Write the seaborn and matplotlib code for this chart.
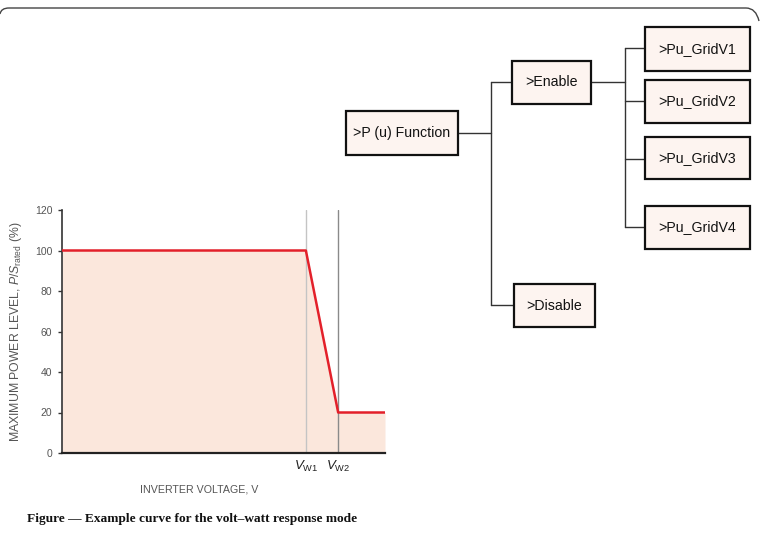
import seaborn as sns
import matplotlib.pyplot as plt
from matplotlib.patches import Rectangle, PathPatch
from matplotlib.path import Path

# curve data (x in arbitrary voltage units)
voltage = [0.0, 7.55, 8.55, 10.0]
power = [100, 100, 20, 20]
vw_positions = [7.55, 8.55]
vw_labels = [r"$V_{\mathrm{W1}}$", r"$V_{\mathrm{W2}}$"]
y_ticks = [0, 20, 40, 60, 80, 100, 120]

# menu tree labels
root_label = ">P (u) Function"
branch_labels = [">Enable", ">Disable"]
leaf_labels = [">Pu_GridV1", ">Pu_GridV2", ">Pu_GridV3", ">Pu_GridV4"]

caption = "Figure \u2014 Example curve for the volt\u2013watt response mode"

sns.set_style("white")
plt.rcParams["font.family"] = ["Liberation Sans", "DejaVu Sans"]
plt.rcParams["mathtext.fontset"] = "custom"
plt.rcParams["mathtext.rm"] = "Liberation Sans"
plt.rcParams["mathtext.it"] = "Liberation Sans:italic"

fig = plt.figure(figsize=(7.6, 5.42), dpi=100)

# overlay in pixel coordinates for the diagram and frame
ov = fig.add_axes([0, 0, 1, 1])
ov.set_xlim(0, 760)
ov.set_ylim(542, 0)
ov.axis("off")

# rounded top border
frame = Path([(0, 14), (1, 8), (9, 8), (746, 8), (756, 8), (759, 21)],
             [Path.MOVETO, Path.CURVE3, Path.CURVE3, Path.LINETO, Path.CURVE3, Path.CURVE3])
ov.add_patch(PathPatch(frame, fill=False, edgecolor="#444444", lw=1.0))

box_fc = "#fdf4f0"


def box(x0, y0, x1, y1, text):
    ov.add_patch(Rectangle((x0, y0), x1 - x0, y1 - y0, facecolor=box_fc,
                           edgecolor="#111111", lw=1.6, zorder=3))
    ov.text((x0 + x1) / 2, (y0 + y1) / 2, text, ha="center", va="center",
            fontsize=10.2, color="#111111", zorder=4)


line_kw = dict(color="#333333", lw=1.0, zorder=2)

box(346, 111, 458, 155, root_label)
box(512, 61, 591, 104, branch_labels[0])
box(514, 284, 595, 327, branch_labels[1])
leaf_boxes = [(27, 71), (80, 123), (137, 179), (206, 249)]
leaf_y = [48, 101, 159, 227]
for (y0, y1), label in zip(leaf_boxes, leaf_labels):
    box(645, y0, 750, y1, label)

ov.plot([458, 491], [133, 133], **line_kw)
ov.plot([491, 491], [82, 305], **line_kw)
ov.plot([491, 512], [82, 82], **line_kw)
ov.plot([491, 514], [305, 305], **line_kw)
ov.plot([591, 625], [82, 82], **line_kw)
ov.plot([625, 625], [leaf_y[0], leaf_y[-1]], **line_kw)
for y in leaf_y:
    ov.plot([625, 645], [y, y], **line_kw)

ov.text(27, 519, caption, ha="left", va="center", fontsize=9.6,
        fontweight="bold", family=["Liberation Serif", "DejaVu Serif"], color="#111111")

# chart
ax = fig.add_axes([62 / 760, 1 - 453 / 542, 323 / 760, 243 / 542])
ax.patch.set_alpha(0)
ax.fill_between(voltage, power, 0, color="#fbe7dc", lw=0, zorder=1)
ax.axvline(vw_positions[0], color="#c4c4c4", lw=1.0, zorder=2)
ax.axvline(vw_positions[1], color="#8a8a8a", lw=1.0, zorder=2)
sns.lineplot(x=voltage, y=power, sort=False, color="#e3202a", lw=1.8, ax=ax, zorder=3)

ax.set_xlim(0, 10)
ax.set_ylim(0, 120)
ax.set_yticks(y_ticks)
ax.set_xticks(vw_positions)
ax.set_xticklabels(vw_labels)
ax.tick_params(axis="x", length=0, pad=4, labelsize=9.5, labelcolor="#222222")
ax.tick_params(axis="y", left=True, length=3, width=1, color="#333333",
               labelsize=7.5, labelcolor="#555555", pad=4)

for side in ["top", "right"]:
    ax.spines[side].set_visible(False)
ax.spines["left"].set_color("#333333")
ax.spines["left"].set_linewidth(1.2)
ax.spines["bottom"].set_color("#222222")
ax.spines["bottom"].set_linewidth(1.6)

ax.set_xlabel("INVERTER VOLTAGE, V", fontsize=7.7, color="#555555")
ax.xaxis.set_label_coords((199 - 62) / 323, -(484 - 453) / 243)
ax.set_ylabel(r"MAXIMUM POWER LEVEL, $\mathit{P/S}_{\mathrm{rated}}$ (%)",
              fontsize=8.8, color="#555555")
ax.yaxis.set_label_coords(-(62 - 24) / 323, 0.5)

fig.savefig("out.png", dpi=100)
